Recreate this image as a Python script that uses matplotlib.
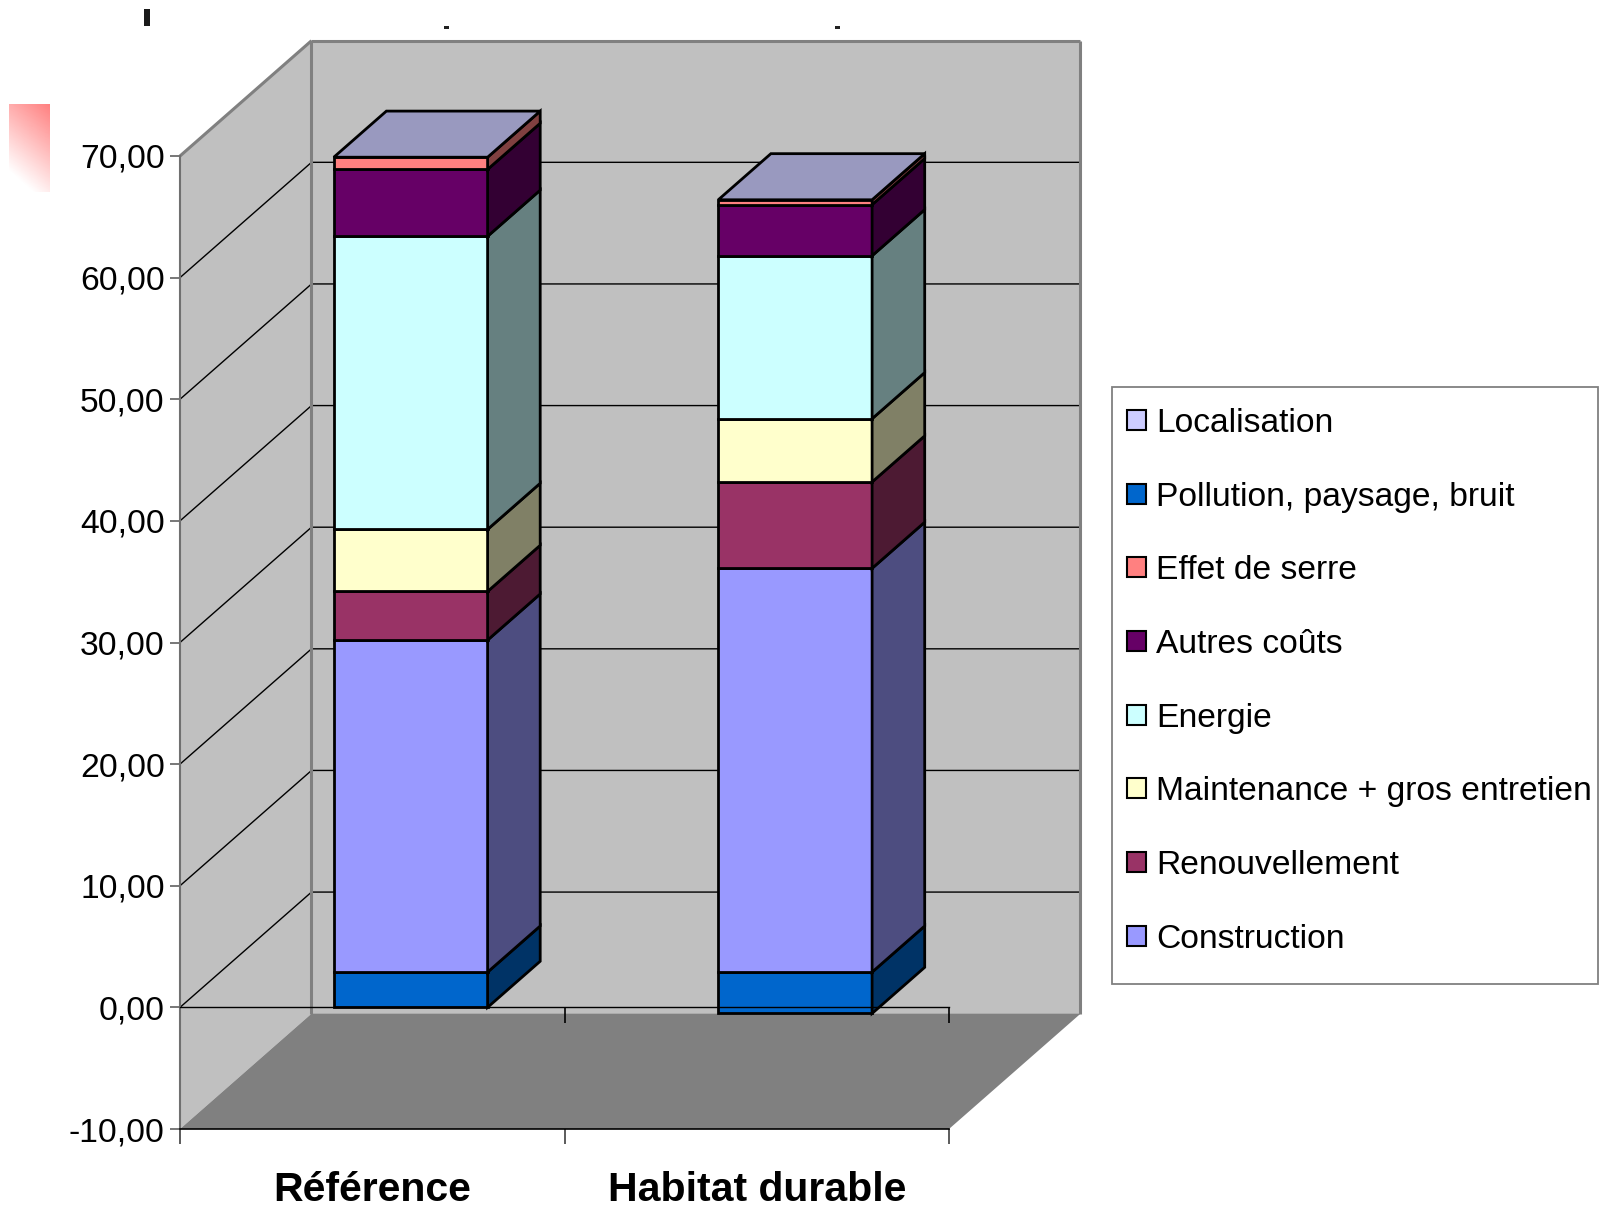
import numpy as np
import matplotlib
matplotlib.use("Agg")
import matplotlib.pyplot as plt
from matplotlib import font_manager
from matplotlib.patches import Polygon, Rectangle, Patch
from matplotlib.colors import to_rgb
from matplotlib.ticker import FuncFormatter

# condensed face if it is there, plain Liberation Sans otherwise
_names = {f.name for f in font_manager.fontManager.ttflist}
NARROW = 'Liberation Sans Narrow' in _names
if NARROW:
    plt.rcParams['font.family'] = ['Liberation Sans Narrow', 'Liberation Sans', 'DejaVu Sans']
    TXT, XLAB, XPAD = 29.5, 36, 25
else:
    plt.rcParams['font.family'] = ['Liberation Sans', 'DejaVu Sans']
    TXT, XLAB, XPAD = 24.2, 29.5, 30.5

# ---------------------------------------------------------------- data
categories = ['Référence', 'Habitat durable']

# series, stacked from the ground up
pollution      = [2.9, 3.4]
construction   = [27.3, 33.2]
renouvellement = [4.0, 7.1]
maintenance    = [5.1, 5.2]
energie        = [24.1, 13.4]
autres_couts   = [5.5, 4.2]
effet_de_serre = [1.0, 0.4]
localisation   = [0.0, 0.0]
stack_base     = [0.0, -0.5]

series_names = ['Pollution, paysage, bruit', 'Construction', 'Renouvellement',
                'Maintenance + gros entretien', 'Energie', 'Autres coûts',
                'Effet de serre', 'Localisation']
series_values = [pollution, construction, renouvellement, maintenance,
                 energie, autres_couts, effet_de_serre, localisation]
series_colors = ['#0066CC', '#9999FF', '#993366', '#FFFFCC',
                 '#CCFFFF', '#660066', '#FF8080', '#CCCCFF']

legend_order = ['Localisation', 'Pollution, paysage, bruit', 'Effet de serre',
                'Autres coûts', 'Energie', 'Maintenance + gros entretien',
                'Renouvellement', 'Construction']

yticks = np.arange(-10, 71, 10)

# ---------------------------------------------------------------- layout
W, H = 1600, 1207
DX, DY = 0.342, 9.48      # oblique offset of the full depth (x units, value units)
BAR_DEPTH = 0.40          # bars use this fraction of the depth
BAR_X0, BAR_W = 0.40, 0.40


def proj(x, v, z=0.0):
    return (x + z * DX, v + z * DY)


def shade(c, f):
    return tuple(np.array(to_rgb(c)) * f)


def fig_xy(px, py):
    return px / W, 1 - py / H


fig = plt.figure(figsize=(W / 100, H / 100), dpi=100)
fig.patch.set_facecolor('white')
ax = fig.add_axes([180 / W, 78 / H, 769 / W, 973 / H])
ax.set_xlim(0, 2)
ax.set_ylim(-10, 70)
ax.patch.set_visible(False)

ymin, ymax = yticks[0], yticks[-1]
ncat = len(categories)

# walls and floor
wall_kw = dict(closed=True, clip_on=False, lw=0, zorder=0.5)
ax.add_patch(Polygon([proj(0, ymin), proj(0, ymax), proj(0, ymax, 1), proj(0, ymin, 1)],
                     fc='#C0C0C0', **wall_kw))
ax.add_patch(Polygon([proj(0, ymin, 1), proj(ncat, ymin, 1), proj(ncat, ymax, 1), proj(0, ymax, 1)],
                     fc='#C0C0C0', **wall_kw))
ax.add_patch(Polygon([proj(0, ymin), proj(ncat, ymin), proj(ncat, ymin, 1), proj(0, ymin, 1)],
                     fc='#808080', **wall_kw))

# wall borders
edge_kw = dict(color='#808080', lw=2.2, clip_on=False, zorder=0.9, solid_capstyle='butt')
for a, b in [(proj(0, ymax), proj(0, ymax, 1)),
             (proj(0, ymax, 1), proj(ncat, ymax, 1)),
             (proj(0, ymin, 1), proj(0, ymax, 1)),
             (proj(ncat, ymin, 1), proj(ncat, ymax, 1))]:
    ax.plot([a[0], b[0]], [a[1], b[1]], **edge_kw)

# grid lines on the back and side walls
for v in yticks[1:-1]:
    a, b, c = proj(0, v), proj(0, v, 1), proj(ncat, v, 1)
    ax.plot([a[0], b[0], c[0]], [a[1], b[1], c[1]], color='black', lw=1,
            clip_on=False, zorder=0.8)

# stacked 3D bars
for i in range(ncat):
    x0, x1 = i + BAR_X0, i + BAR_X0 + BAR_W
    bottom = stack_base[i]
    for vals, col in zip(series_values, series_colors):
        top = bottom + vals[i]
        if vals[i] != 0:
            ax.add_patch(Polygon([proj(x0, bottom), proj(x1, bottom), proj(x1, top), proj(x0, top)],
                                 closed=True, fc=col, ec='black', lw=2, zorder=2,
                                 joinstyle='miter', clip_on=False))
            ax.add_patch(Polygon([proj(x1, bottom), proj(x1, bottom, BAR_DEPTH),
                                  proj(x1, top, BAR_DEPTH), proj(x1, top)],
                                 closed=True, fc=shade(col, 0.5), ec='black', lw=2, zorder=2,
                                 joinstyle='miter', clip_on=False))
        bottom = top
    ax.add_patch(Polygon([proj(x0, bottom), proj(x1, bottom),
                          proj(x1, bottom, BAR_DEPTH), proj(x0, bottom, BAR_DEPTH)],
                         closed=True, fc=shade(series_colors[-1], 0.75), ec='black', lw=2,
                         zorder=2.1, joinstyle='miter', clip_on=False))

# category axis at zero
ax.plot([0, ncat], [0, 0], color='black', lw=1, zorder=3, clip_on=False)
ax.vlines(np.arange(1, ncat + 1), -1.25, 0, color='black', lw=1.2, zorder=3, clip_on=False)

# axes decoration
for s in ['top', 'right']:
    ax.spines[s].set_visible(False)
ax.spines['left'].set_color('#707070')
ax.spines['left'].set_linewidth(1.5)
ax.spines['bottom'].set_color('black')
ax.spines['bottom'].set_linewidth(1.2)

ax.set_yticks(yticks)
ax.yaxis.set_major_formatter(FuncFormatter(lambda v, _: f'{v:.2f}'.replace('.', ',')))
ax.tick_params(axis='y', direction='out', length=7, width=1.2, color='#606060',
               pad=4, labelsize=TXT)

ax.set_xticks(np.arange(ncat + 1))
ax.set_xticklabels([])
ax.set_xticks(np.arange(ncat) + 0.5, minor=True)
ax.set_xticklabels(categories, minor=True, fontsize=XLAB, fontweight='bold')
ax.tick_params(axis='x', which='major', direction='out', length=11, width=1.2, color='#404040')
ax.tick_params(axis='x', which='minor', length=0, pad=XPAD)

# legend
em = TXT / 72 * 100
text_h = 0.926 * em
handles = [Patch(fc=series_colors[series_names.index(n)], ec='black', lw=1.5)
           for n in legend_order]
fig.legend(handles, legend_order, loc='upper left',
           bbox_to_anchor=fig_xy(1127, 420 - 0.39 * text_h),
           frameon=False, fontsize=TXT, handlelength=18.5 / em, handleheight=18.5 / em,
           handletextpad=10.5 / em, labelspacing=(73.8 - text_h) / em,
           borderpad=0, borderaxespad=0)
lx, ly = fig_xy(1112, 984)
fig.add_artist(Rectangle((lx, ly), 486 / W, 597 / H, transform=fig.transFigure,
                         fill=False, ec='#808080', lw=1.3))

# leftovers along the top-left edge
bx, by = fig_xy(144, 26)
fig.add_artist(Rectangle((bx, by), 6 / W, 17 / H, transform=fig.transFigure,
                         fc='#1a1a1a', ec='none'))
for px in (444, 835):
    mx, my = fig_xy(px, 29)
    fig.add_artist(Rectangle((mx, my), 5 / W, 2.5 / H, transform=fig.transFigure,
                             fc='#222222', ec='none'))

gx, gy = fig_xy(9, 192)
gax = fig.add_axes([gx, gy, 41 / W, 88 / H])
gx_, gy_ = np.meshgrid(np.linspace(0, 1, 40), np.linspace(0, 1, 90))
alpha = np.clip(1 - (0.85 * gy_ + 0.35 * (1 - gx_)), 0, 1)
grad = np.zeros(gx_.shape + (4,))
grad[..., :3] = to_rgb('#FF8080')
grad[..., 3] = alpha
gax.imshow(grad, aspect='auto', interpolation='bilinear')
gax.axis('off')

fig.savefig('out.png', dpi=100, facecolor='white')
